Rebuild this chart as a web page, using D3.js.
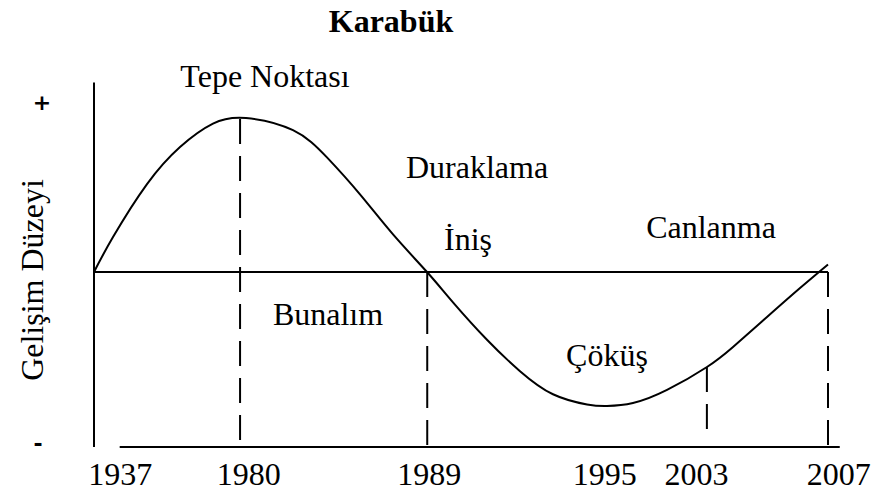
<!DOCTYPE html>
<html>
<head>
<meta charset="utf-8">
<script src="https://cdn.jsdelivr.net/npm/d3@7/dist/d3.min.js"></script>
<style>
  html, body { margin: 0; padding: 0; background: #fff; }
  svg { display: block; }
  text { fill: #000; }
</style>
</head>
<body>
<svg id="chart" width="877" height="491"></svg>
<script>
// ---- data ----
const title = "Karabük";
const yAxisLabel = "Gelişim Düzeyi";
// schematic cycle: phase position (0-100) and development level (-1..1)
const curvePhase = [0, 2.59, 7.22, 11.72, 16.21, 20.71, 27.11, 31.74, 36.24, 40.74, 45.37, 48.91, 53.54, 58.04, 62.53, 67.17, 69.89, 73.43, 78.07, 83.51, 87.06, 91.69, 96.19, 100];
const curveLevel = [0, 0.227, 0.571, 0.812, 0.964, 1.0, 0.921, 0.744, 0.504, 0.244, 0, -0.197, -0.44, -0.644, -0.794, -0.86, -0.87, -0.851, -0.766, -0.617, -0.487, -0.292, -0.104, 0.049];
const yearLabels = ["1937", "1980", "1989", "1995", "2003", "2007"];
const yearPhase = [3.5, 21, 45.6, 69.5, 82, 101.4];
// dashed year markers
const markerPhase = [19.9, 45.4, 83.5, 100];
const markerTop = ["curve", "base", "curve", "base"];
const phaseLabels = ["Tepe Noktası", "Duraklama", "İniş", "Canlanma", "Bunalım", "Çöküş"];

// ---- layout ----
const FONT = '"Liberation Serif", "Times New Roman", serif';
const SANS = '"DejaVu Sans", sans-serif';
const svg = d3.select("#chart");
const x = d3.scaleLinear().domain([0, 100]).range([94, 828]);
const y = d3.scaleLinear().domain([-1, 1]).range([426, 118]);
const axisBottomLevel = -1.136;
const axisTopLevel = 1.23;
const fs = 32;

const curve = curvePhase.map((p, i) => [p, curveLevel[i]]);
const levelAt = p => {
  for (let i = 1; i < curve.length; i++) {
    if (p <= curve[i][0]) {
      const a = curve[i - 1], b = curve[i];
      return a[1] + (b[1] - a[1]) * (p - a[0]) / (b[0] - a[0]);
    }
  }
  return curve[curve.length - 1][1];
};

const g = svg.append("g");

// vertical axis
g.append("line")
  .attr("x1", x(0)).attr("x2", x(0))
  .attr("y1", y(axisTopLevel)).attr("y2", y(axisBottomLevel))
  .attr("stroke", "#000").attr("stroke-width", 2);

// baseline
g.append("line")
  .attr("x1", x(0)).attr("x2", x(100))
  .attr("y1", y(0)).attr("y2", y(0))
  .attr("stroke", "#000").attr("stroke-width", 2);

// bottom axis (year labels)
const xAxis = d3.axisBottom(x)
  .tickValues(yearPhase)
  .tickFormat((d, i) => yearLabels[i])
  .tickSize(0)
  .tickPadding(15);
const ax = g.append("g")
  .attr("transform", `translate(0,${y(axisBottomLevel)})`)
  .call(xAxis);
ax.attr("font-family", FONT).attr("font-size", fs);
ax.select(".domain").remove();
ax.selectAll("text")
  .style("font-family", FONT)
  .style("font-size", fs + "px")
  .attr("fill", "#000");

g.append("line")
  .attr("x1", x(3.5)).attr("x2", x(101.6))
  .attr("y1", y(axisBottomLevel)).attr("y2", y(axisBottomLevel))
  .attr("stroke", "#000").attr("stroke-width", 2);

// dashed markers
markerPhase.forEach((p, i) => {
  const top = markerTop[i] === "curve" ? levelAt(p) : 0;
  const bottom = i === 2 ? -1.09 : axisBottomLevel;
  g.append("line")
    .attr("x1", x(p)).attr("x2", x(p))
    .attr("y1", y(top)).attr("y2", y(bottom))
    .attr("stroke", "#000").attr("stroke-width", 2)
    .attr("stroke-dasharray", "25,12");
});

// cycle curve
g.append("path")
  .datum(curve)
  .attr("fill", "none")
  .attr("stroke", "#000")
  .attr("stroke-width", 2)
  .attr("d", d3.line().x(d => x(d[0])).y(d => y(d[1])).curve(d3.curveNatural));

// title
svg.append("text")
  .attr("x", 391).attr("y", 32)
  .attr("text-anchor", "middle")
  .style("font-family", FONT)
  .style("font-weight", "bold")
  .style("font-size", fs + "px")
  .text(title);

// phase annotations
const annPos = [[265, 87], [477, 178], [468, 250], [711, 238], [328, 325], [607, 366]];
phaseLabels.forEach((t, i) => {
  svg.append("text")
    .attr("x", annPos[i][0]).attr("y", annPos[i][1])
    .attr("text-anchor", "middle")
    .style("font-family", FONT)
    .style("font-size", fs + "px")
    .text(t);
});

// +/- markers
svg.append("text").attr("x", 42).attr("y", 110).attr("text-anchor", "middle")
  .style("font-family", SANS).style("font-weight", "bold").style("font-size", "22px").text("+");
svg.append("text").attr("x", 38).attr("y", 451).attr("text-anchor", "middle")
  .style("font-family", SANS).style("font-weight", "bold").style("font-size", "22px").text("-");

// y label
svg.append("text")
  .attr("transform", "translate(43,280) rotate(-90)")
  .attr("text-anchor", "middle")
  .style("font-family", FONT)
  .style("font-size", fs + "px")
  .text(yAxisLabel);
</script>
</body>
</html>
